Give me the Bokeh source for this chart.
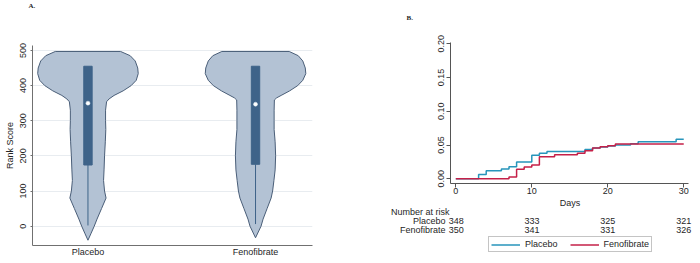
from bokeh.plotting import figure
from bokeh.layouts import row, column
from bokeh.models import (FixedTicker, Legend, LegendItem, PrintfTickFormatter,
                          Range1d)
from bokeh.core.properties import value
from bokeh.embed import file_html
from bokeh.resources import INLINE

# ---------------- Panel A data (violin + box) ----------------
groups = ["Placebo", "Fenofibrate"]
group_pos = [1, 2]
violin_y_placebo = [497, 485, 470, 450, 434, 415, 400, 385, 372, 362, 354, 330, 300,
                    275, 240, 200, 160, 130, 100, 80, 50, 20, 0, -20, -40]
violin_d_placebo = [0.65, 0.84, 0.94, 0.99, 1.0, 0.96, 0.86, 0.70, 0.52, 0.42, 0.37, 0.35,
                    0.35, 0.355, 0.345, 0.33, 0.32, 0.31, 0.33, 0.36, 0.27, 0.18, 0.125,
                    0.063, 0.0]
violin_y_feno = [497, 485, 470, 450, 434, 415, 400, 385, 372, 365, 359, 330, 300, 275,
                 240, 200, 160, 130, 100, 80, 50, 20, 0, -33]
violin_d_feno = [0.67, 0.85, 0.94, 0.99, 1.0, 0.94, 0.84, 0.68, 0.51, 0.42, 0.375, 0.37,
                 0.37, 0.37, 0.39, 0.40, 0.39, 0.366, 0.34, 0.31, 0.23, 0.15, 0.11, 0.0]
box_q1 = [174, 176]
box_q3 = [455, 455]
box_median = [350, 347]
whisker_low = [2, 6]
rank_ticks = [0, 100, 200, 300, 400, 500]

# ---------------- Panel B data (cumulative incidence) ----------------
days_placebo = [0, 3, 4, 6, 7, 8, 10, 11, 12, 17, 18, 19, 20, 21, 23, 24, 29, 30]
inc_placebo = [0, 0.0065, 0.012, 0.0146, 0.0178, 0.025, 0.0347, 0.0377, 0.0405, 0.0435,
               0.0455, 0.047, 0.0485, 0.050, 0.052, 0.055, 0.0585, 0.0585]
days_feno = [0, 7, 8, 9, 10, 11, 13, 16, 17, 18, 19, 20, 21, 30]
inc_feno = [0, 0.0027, 0.014, 0.0175, 0.0205, 0.0328, 0.0355, 0.038, 0.0415, 0.0455,
            0.0475, 0.049, 0.0515, 0.0515]
risk_days = [0, 10, 20, 30]
risk_placebo = [348, 333, 325, 321]
risk_feno = [350, 341, 331, 326]
day_ticks = [0, 10, 20, 30]
inc_ticks = [0, 0.05, 0.10, 0.15, 0.20]
panel_letters = ["A.", "B."]

FONT = "Liberation Sans"
TXT = "#262626"
VIOLIN_FILL = "#b3c2d4"
VIOLIN_LINE = "#4a5e78"
BOX = "#3e6389"
BLUE = "#2795bb"
RED = "#c52048"


def style_common(p):
    p.outline_line_color = None
    p.background_fill_color = "white"
    p.border_fill_color = "white"
    p.frame_align = False


# ---------------- Header strip with panel letters ----------------
pH = figure(width=696, height=24, output_backend="svg", toolbar_location=None,
            x_range=Range1d(0, 696), y_range=Range1d(24, 0),
            x_axis_type=None, y_axis_type=None,
            min_border_left=0, min_border_right=0, min_border_top=0,
            min_border_bottom=0)
style_common(pH)
pH.text(x=[28, 406], y=[5, 17.5], text=panel_letters,
        text_font=value("Liberation Serif"), text_font_style="bold",
        text_font_size="7px", text_color=TXT, text_align="left",
        text_baseline="middle")

# ---------------- Figure A ----------------
pA = figure(width=338, height=235, output_backend="svg", toolbar_location=None,
            x_range=Range1d(0.669, 2.34), y_range=Range1d(-55, 514),
            min_border_left=32, min_border_right=26, min_border_top=21,
            min_border_bottom=12)
style_common(pA)
pA.xgrid.grid_line_color = None
pA.ygrid.grid_line_color = "#e8ecf0"
pA.ygrid.ticker = FixedTicker(ticks=rank_ticks)

VSCALE = 0.3
for c, yv, dv in [(group_pos[0], violin_y_placebo, violin_d_placebo),
                  (group_pos[1], violin_y_feno, violin_d_feno)]:
    xs = [c - d * VSCALE for d in dv] + [c + d * VSCALE for d in reversed(dv)]
    ys = list(yv) + list(reversed(yv))
    pA.patch(xs, ys, fill_color=VIOLIN_FILL, line_color=VIOLIN_LINE, line_width=1)

pA.segment(x0=group_pos, y0=whisker_low, x1=group_pos, y1=box_q1,
           line_color=BOX, line_width=1)
pA.vbar(x=group_pos, width=0.05, bottom=box_q1, top=box_q3,
        fill_color=BOX, line_color=BOX)
pA.scatter(group_pos, box_median, size=4, fill_color="white", line_color="#dce6ef",
           line_width=0.5)

pA.xaxis.ticker = FixedTicker(ticks=group_pos)
pA.xaxis.major_label_overrides = {group_pos[0]: groups[0], group_pos[1]: groups[1]}
pA.xaxis.major_tick_out = 0
pA.xaxis.major_tick_in = 0
pA.xaxis.minor_tick_line_color = None
pA.xaxis.major_label_standoff = 1
pA.xaxis.major_label_text_font = FONT
pA.xaxis.major_label_text_font_size = "9px"
pA.xaxis.major_label_text_color = TXT
pA.xaxis.axis_line_color = "#707070"

pA.yaxis.ticker = FixedTicker(ticks=rank_ticks)
pA.yaxis.major_label_orientation = "parallel"
pA.yaxis.major_tick_out = 2
pA.yaxis.major_tick_in = 0
pA.yaxis.minor_tick_line_color = None
pA.yaxis.major_label_standoff = 4
pA.yaxis.major_label_text_font = FONT
pA.yaxis.major_label_text_font_size = "9px"
pA.yaxis.major_label_text_color = TXT
pA.yaxis.axis_label = "Rank Score"
pA.yaxis.axis_label_standoff = 3
pA.yaxis.axis_label_text_font = FONT
pA.yaxis.axis_label_text_font_size = "9px"
pA.yaxis.axis_label_text_font_style = "normal"
pA.yaxis.axis_label_text_color = TXT
pA.yaxis.axis_line_color = "#707070"
pA.yaxis.major_tick_line_color = "#707070"

# ---------------- Figure B (curves) ----------------
B_X0, B_X1 = -0.7, 30.62
pB = figure(width=358, height=173, output_backend="svg", toolbar_location=None,
            x_range=Range1d(B_X0, 30.89), y_range=Range1d(-0.007, 0.2019),
            min_border_left=112, min_border_right=6, min_border_top=18,
            min_border_bottom=14)
style_common(pB)
pB.xgrid.grid_line_color = None
pB.ygrid.grid_line_color = None

pB.step(days_placebo, inc_placebo, mode="after", line_color=BLUE, line_width=1.5)
pB.step(days_feno, inc_feno, mode="after", line_color=RED, line_width=1.5)

pB.xaxis.ticker = FixedTicker(ticks=day_ticks)
pB.xaxis.bounds = (B_X0, B_X1)
pB.xaxis.major_tick_out = 4
pB.xaxis.major_tick_in = 0
pB.xaxis.minor_tick_line_color = None
pB.xaxis.major_label_standoff = 0
pB.xaxis.major_label_text_font = FONT
pB.xaxis.major_label_text_font_size = "9px"
pB.xaxis.major_label_text_color = TXT
pB.xaxis.axis_line_color = "#555555"
pB.xaxis.major_tick_line_color = "#555555"

pB.yaxis.ticker = FixedTicker(ticks=inc_ticks)
pB.yaxis.formatter = PrintfTickFormatter(format="%.2f")
pB.yaxis.major_label_orientation = "parallel"
pB.yaxis.major_tick_out = 4
pB.yaxis.major_tick_in = 0
pB.yaxis.minor_tick_line_color = None
pB.yaxis.major_label_standoff = 2
pB.yaxis.major_label_text_font = FONT
pB.yaxis.major_label_text_font_size = "9px"
pB.yaxis.major_label_text_color = TXT
pB.yaxis.axis_line_color = "#555555"
pB.yaxis.major_tick_line_color = "#555555"

# ---------------- Figure B (axis title, number at risk, legend) ----------------
pT = figure(width=358, height=61, output_backend="svg", toolbar_location=None,
            x_range=Range1d(-8.67, 31.69), y_range=Range1d(61, 0),
            x_axis_type=None, y_axis_type=None,
            min_border_left=52, min_border_right=0, min_border_top=0,
            min_border_bottom=0)
style_common(pT)

txt_kw = dict(text_font=value(FONT), text_font_size="9px", text_color=TXT,
              text_baseline="middle")
pT.text(x=[(day_ticks[0] + day_ticks[-1]) / 2], y=[5.5], text=["Days"],
        text_align="center", **txt_kw)
pT.text(x=[-8.6], y=[14], text=["Number at risk"], text_align="left", **txt_kw)
pT.text(x=[-1.4, -1.4], y=[23.7, 32.7], text=groups, text_align="right", **txt_kw)
pT.text(x=risk_days, y=[23.7] * len(risk_days), text=[str(v) for v in risk_placebo],
        text_align="center", **txt_kw)
pT.text(x=risk_days, y=[32.7] * len(risk_days), text=[str(v) for v in risk_feno],
        text_align="center", **txt_kw)

# one-point lines draw nothing in the plot; they only lend their style to the legend
leg_pl = pT.line(days_placebo[:1], inc_placebo[:1], line_color=BLUE, line_width=1.5)
leg_fe = pT.line(days_feno[:1], inc_feno[:1], line_color=RED, line_width=1.5)
legend = Legend(items=[LegendItem(label=groups[0], renderers=[leg_pl]),
                       LegendItem(label=groups[1], renderers=[leg_fe])],
                location=(98, 6), orientation="horizontal",
                label_text_font=FONT, label_text_font_size="9px",
                label_text_color=TXT, glyph_width=29, glyph_height=9,
                label_standoff=5, spacing=12, padding=2, margin=0,
                label_height=9,
                border_line_color="#8a8a8a", border_line_width=1,
                background_fill_color="white", background_fill_alpha=1)
pT.add_layout(legend)

layout = column(pH, row(pA, column(pB, pT)))
open("out.html", "w").write(file_html(layout, INLINE))
